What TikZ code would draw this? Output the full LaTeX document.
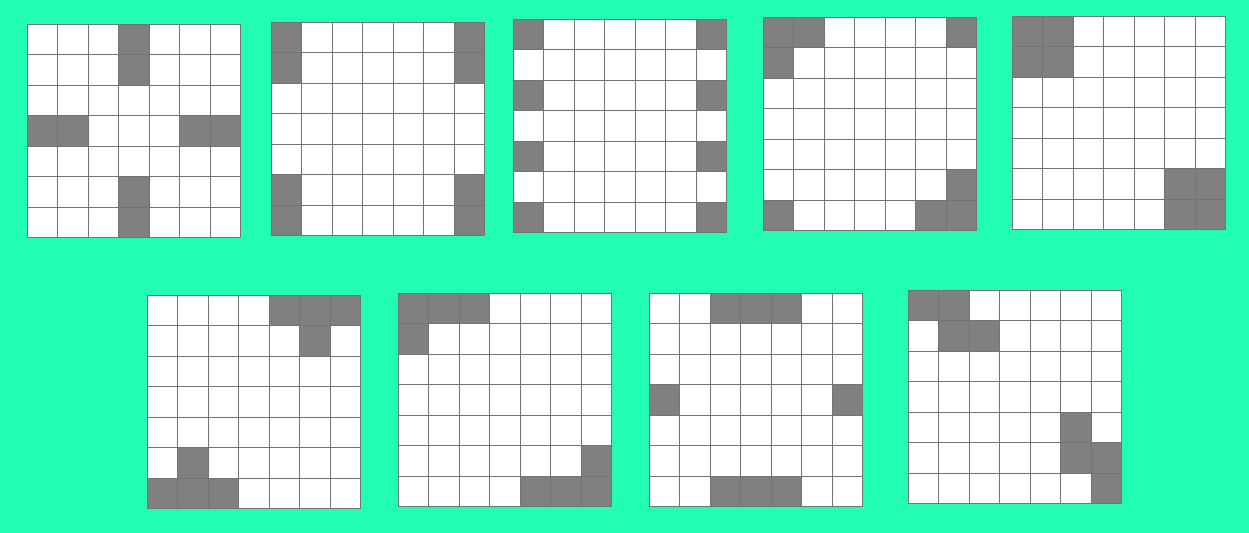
\documentclass[tikz,border=0pt]{standalone}
\usepackage{tikz}
\definecolor{bgGreen}{HTML}{21FDB2}
\definecolor{cellGray}{HTML}{808080}

\begin{document}
\begin{tikzpicture}[x=0.02cm, y=-0.02cm,
    cell/.style={fill=cellGray},
    gridline/.style={draw=black!55, line width=0.45pt},
]
\fill[bgGreen] (0,0) rectangle (1249,533);
\useasboundingbox (0,0) rectangle (1249,533);
% one 7x7 board per entry: left/top/dark cells (col/row)
\foreach \gx/\gy/\cells in {
    27/24/{3/0,3/1,0/3,1/3,5/3,6/3,3/5,3/6},
    271/22/{0/0,0/1,0/5,0/6,6/0,6/1,6/5,6/6},
    513/19/{0/0,0/2,0/4,0/6,6/0,6/2,6/4,6/6},
    763/17/{0/0,1/0,6/0,0/1,6/5,0/6,5/6,6/6},
    1012/16/{0/0,1/0,0/1,1/1,5/5,6/5,5/6,6/6},
    147/295/{4/0,5/0,6/0,5/1,1/5,0/6,1/6,2/6},
    398/293/{0/0,1/0,2/0,0/1,6/5,4/6,5/6,6/6},
    649/293/{2/0,3/0,4/0,0/3,6/3,2/6,3/6,4/6},
    908/290/{0/0,1/0,1/1,2/1,5/4,5/5,6/5,6/6}} {
  \begin{scope}[shift={(\gx,\gy)}]
    \fill[white] (0,0) rectangle (213.5,213.5);
    \foreach \c/\r in \cells
      \fill[cell] (\c*30.5,\r*30.5) rectangle ++(30.5,30.5);
    \foreach \i in {0,...,7} {
      \draw[gridline] (\i*30.5,0) -- (\i*30.5,213.5);
      \draw[gridline] (0,\i*30.5) -- (213.5,\i*30.5);
    }
  \end{scope}
}
\end{tikzpicture}
\end{document}
